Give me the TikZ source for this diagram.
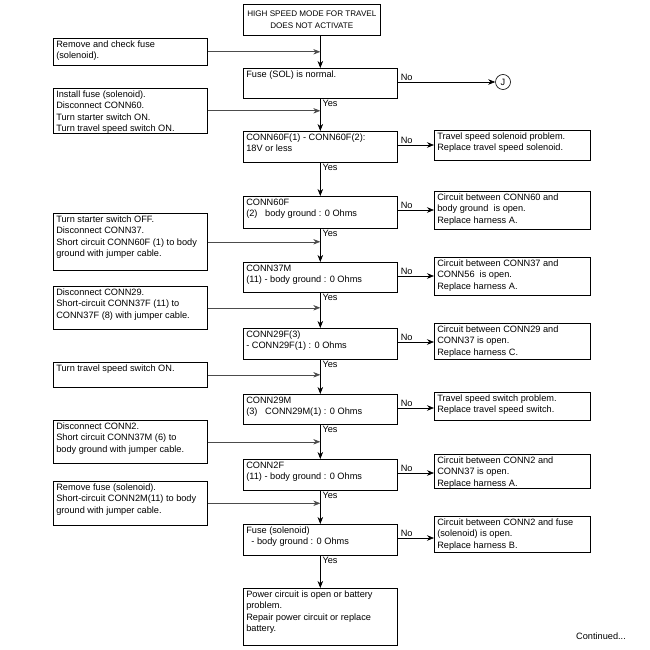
\documentclass[tikz,border=0pt]{standalone}
\usepackage{fontspec}
\setmainfont{Liberation Sans}
\usetikzlibrary{arrows.meta}
\newcommand{\bt}[3]{\parbox[c][#2][t]{#1}{\vspace*{1pt}\hspace*{3pt}\begin{tabular}[t]{@{}l@{}}#3\end{tabular}}}
\begin{document}
\begin{tikzpicture}[x=1pt,y=-1pt, font=\fontsize{9.2}{11.5}\selectfont,
 box/.style={draw, line width=0.6pt, anchor=north west, inner sep=0pt},
 arr/.style={-{Stealth[length=7pt,width=5.5pt]}, line width=0.6pt},
 larr/.style={arr, draw=black!70},
 lbl/.style={inner sep=1pt}]
\useasboundingbox (0,0) rectangle (650,650);

% title
\node[box, align=center, minimum width=137pt, minimum height=31pt, font=\fontsize{8.1}{11.5}\selectfont] (t) at (243,4) {HIGH SPEED MODE FOR TRAVEL\\DOES NOT ACTIVATE};

% main column
\node[box] (m1) at (243,68) {\bt{154pt}{30pt}{Fuse (SOL) is normal.}};
\node[box] (m2) at (243,131) {\bt{154pt}{31pt}{CONN60F(1) - CONN60F(2):\\18V or less}};
\node[box] (m3) at (243,196) {\bt{154pt}{32pt}{CONN60F\\(2)\ \ \ body ground : 0 Ohms}};
\node[box] (m4) at (243,262) {\bt{154pt}{30pt}{CONN37M\\(11) - body ground : 0 Ohms}};
\node[box] (m5) at (243,328) {\bt{154pt}{31pt}{CONN29F(3)\\- CONN29F(1) : 0 Ohms}};
\node[box] (m6) at (243,394) {\bt{154pt}{30pt}{CONN29M\\(3)\ \ \ CONN29M(1) : 0 Ohms}};
\node[box] (m7) at (243,459) {\bt{154pt}{31pt}{CONN2F\\(11) - body ground : 0 Ohms}};
\node[box] (m8) at (243,524) {\bt{154pt}{31pt}{Fuse (solenoid)\\\ \ - body ground : 0 Ohms}};
\node[box] (m9) at (243,588) {\bt{154pt}{57pt}{Power circuit is open or battery\\problem.\\Repair power circuit or replace\\battery.}};

% left column
\node[box] (l1) at (53,38) {\bt{154pt}{27pt}{Remove and check fuse\\(solenoid).}};
\node[box] (l2) at (53,88) {\bt{154pt}{45pt}{Install fuse (solenoid).\\Disconnect CONN60.\\Turn starter switch ON.\\Turn travel speed switch ON.}};
\node[box] (l3) at (53,213) {\bt{154pt}{57pt}{Turn starter switch OFF.\\Disconnect CONN37.\\Short circuit CONN60F (1) to body\\ground with jumper cable.}};
\node[box] (l4) at (53,286) {\bt{154pt}{43pt}{Disconnect CONN29.\\Short-circuit CONN37F (11) to\\CONN37F (8) with jumper cable.}};
\node[box] (l5) at (53,362) {\bt{154pt}{25pt}{Turn travel speed switch ON.}};
\node[box] (l6) at (53,420) {\bt{154pt}{43pt}{Disconnect CONN2.\\Short circuit CONN37M (6) to\\body ground with jumper cable.}};
\node[box] (l7) at (53,481) {\bt{154pt}{44pt}{Remove fuse (solenoid).\\Short-circuit CONN2M(11) to body\\ground with jumper cable.}};

% right column
\node[box] (r1) at (434,130) {\bt{156pt}{30pt}{Travel speed solenoid problem.\\Replace travel speed solenoid.}};
\node[box] (r2) at (434,191) {\bt{156pt}{38pt}{Circuit between CONN60 and\\body ground\ \ is open.\\Replace harness A.}};
\node[box] (r3) at (434,257) {\bt{156pt}{38pt}{Circuit between CONN37 and\\CONN56\ \ is open.\\Replace harness A.}};
\node[box] (r4) at (434,323) {\bt{156pt}{36pt}{Circuit between CONN29 and\\CONN37 is open.\\Replace harness C.}};
\node[box] (r5) at (434,392) {\bt{156pt}{28pt}{Travel speed switch problem.\\Replace travel speed switch.}};
\node[box] (r6) at (434,454) {\bt{156pt}{34pt}{Circuit between CONN2 and\\CONN37 is open.\\Replace harness A.}};
\node[box] (r7) at (434,516) {\bt{156pt}{36pt}{Circuit between CONN2 and fuse\\(solenoid) is open.\\Replace harness B.}};

% connector J
\node[draw, circle, line width=0.6pt, minimum size=15pt, inner sep=0pt] (j) at (503,82) {J};

% main flow
\draw[arr] (t.south -| m1.north) -- (m1.north);
\foreach \a/\b in {m1/m2,m2/m3,m3/m4,m4/m5,m5/m6,m6/m7,m7/m8,m8/m9}{
  \draw[arr] (\a.south) -- (\b.north);
  \node[lbl, anchor=north west] at ([xshift=1pt]\a.south) {Yes};
}

% left inputs
\draw[larr] (l1.east) -- (l1.east -| m1.north);
\draw[larr] (l2.east) -- (l2.east -| m2.north);
\draw[larr] (l3.east) -- (l3.east -| m4.north);
\draw[larr] (l4.east) -- (l4.east -| m5.north);
\draw[larr] (l5.east) -- (l5.east -| m6.north);
\draw[larr] (l6.east) -- (l6.east -| m7.north);
\draw[larr] (l7.east) -- (l7.east -| m8.north);

% No branches
\foreach \m/\r in {m1/j,m2/r1,m3/r2,m4/r3,m5/r4,m6/r5,m7/r6,m8/r7}{
  \coordinate (n\m) at ([yshift=-14pt]\m.north east);
  \draw[arr] (n\m) -- (n\m -| \r.west);
  \node[lbl, anchor=south west] at ([xshift=2pt]n\m) {No};
}

\node[lbl, anchor=west] (cont) at (575,636) {Continued...};
\end{tikzpicture}
\end{document}
